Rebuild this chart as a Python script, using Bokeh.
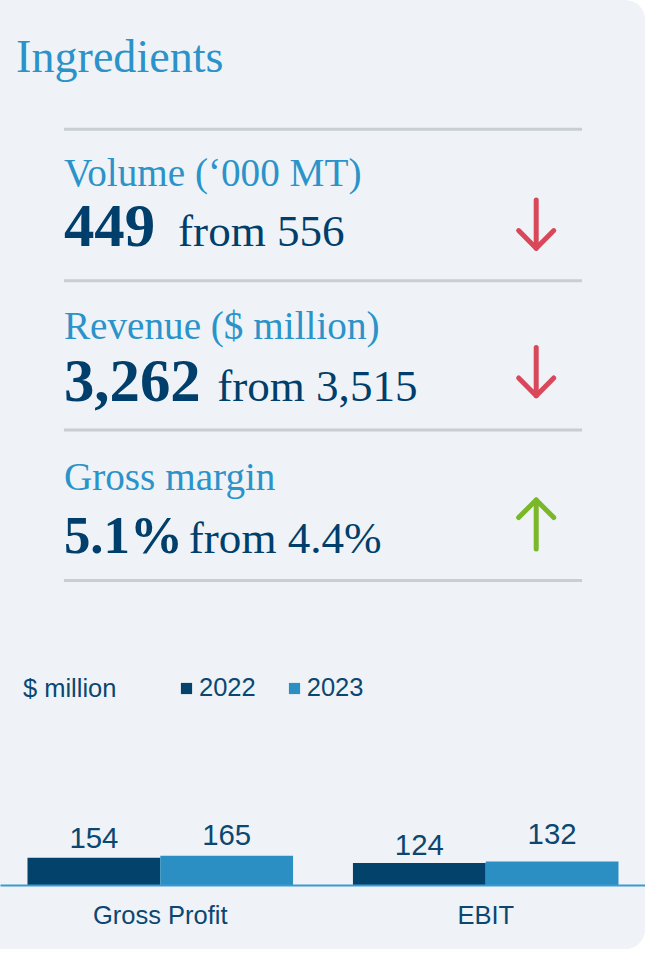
from bokeh.plotting import figure
from bokeh.models import ColumnDataSource, Range1d, FactorRange, Label, Legend, LegendItem
from bokeh.transform import dodge
from bokeh.layouts import column
from bokeh.core.properties import value
from bokeh.embed import file_html
from bokeh.resources import INLINE

# ---------------- data ----------------
title_text = "Ingredients"
metric_names = ["Volume (\u2018000 MT)", "Revenue ($ million)", "Gross margin"]
current_values = ["449", "3,262", "5.1%"]
previous_values = ["556", "3,515", "4.4%"]
directions = ["down", "down", "up"]

categories = ["Gross Profit", "EBIT"]
years = ["2022", "2023"]
values_2022 = [154, 124]
values_2023 = [165, 132]
unit_label = "$ million"

# ---------------- style ----------------
BG = "#eff3f7"
BLUE = "#2b93c9"
NAVY = "#003f6b"
TEXT_NAVY = "#0b4771"
GRAY = "#c9ced3"
RED = "#d9475a"
GREEN = "#7ab829"
BAR_2022 = "#02426b"
BAR_2023 = "#2b8fc4"
AXIS_BLUE = "#3d9ad0"
SERIF = "Liberation Serif"
SANS = "Liberation Sans"

W = 645
H = 949
REF_W, REF_H = 661, 965
SX = W / REF_W
SY = H / REF_H
FS = 0.98                      # font scale
TOP_REF = 650                  # reference y where the bar chart panel starts
TOP_H = round(TOP_REF * SY)
BOT_H = H - TOP_H
SHIFT_SERIF = 0.337            # baseline correction (em)
SHIFT_SANS = 0.347


def px(size):
    return f"{size:.1f}px"


def base(y, size, shift=SHIFT_SERIF):
    # y of a text anchor so that its alphabetic baseline lands on reference y
    return y - shift * size / SY


# ---------------- top panel (KPI text) ----------------
top = figure(width=W, height=TOP_H, x_range=Range1d(0, REF_W), y_range=Range1d(TOP_REF, 0),
             output_backend="svg", toolbar_location=None,
             x_axis_location=None, y_axis_location=None, min_border=0,
             background_fill_color=BG, border_fill_color=BG, outline_line_color=None)
top.grid.grid_line_color = None

t_size = 47 * FS
top.text(x=[16], y=[base(73, t_size)], text=[title_text], text_font=value(SERIF),
         text_font_size=px(t_size), text_color=BLUE, text_baseline="alphabetic")

line_ys = [131, 285, 437, 590]
top.segment(x0=[65] * 4, y0=line_ys, x1=[596] * 4, y1=line_ys, line_color=GRAY, line_width=3)

label_base = [188, 344, 498]
value_base = [250, 408, 562]

l_size = 40 * FS
top.text(x=[65] * 3, y=[base(b, l_size) for b in label_base], text=metric_names,
         text_font=value(SERIF), text_font_size=px(l_size), text_color=BLUE,
         text_baseline="alphabetic")

v_sizes = [62 * FS, 62 * FS, 54 * FS]
val_src = ColumnDataSource(dict(x=[65] * 3,
                                y=[base(b, s) for b, s in zip(value_base, v_sizes)],
                                text=current_values, size=[px(s) for s in v_sizes]))
top.text(x="x", y="y", text="text", source=val_src, text_font=value(SERIF),
         text_font_size="size", text_font_style="bold", text_color=NAVY,
         text_baseline="alphabetic")

f_size = 46 * FS
from_x = [182, 222, 193]
top.text(x=from_x, y=[base(b, f_size) for b in value_base],
         text=["from " + v for v in previous_values],
         text_font=value(SERIF), text_font_size=px(f_size), text_color=NAVY,
         text_baseline="alphabetic")

arrow_top = [203, 353, 508]
arrow_bot = [252, 402, 558]
ax = 549
xs, ys, cols = [], [], []
for d, t, b in zip(directions, arrow_top, arrow_bot):
    c = RED if d == "down" else GREEN
    xs.append([ax, ax]); ys.append([t, b]); cols.append(c)
    if d == "down":
        xs.append([ax - 18, ax, ax + 18]); ys.append([b - 18, b, b - 18])
    else:
        xs.append([ax - 18, ax, ax + 18]); ys.append([t + 18, t, t + 18])
    cols.append(c)
top.multi_line(xs=xs, ys=ys, line_color=cols, line_width=5, line_cap="round", line_join="round")

# ---------------- bottom panel (bar chart) ----------------
AXIS_REF = 900
plot_h = round((AXIS_REF - TOP_REF) * SY)
bot = figure(width=W, height=BOT_H,
             x_range=FactorRange(factors=categories, range_padding=-0.009),
             y_range=Range1d(0, 1360),
             output_backend="svg", toolbar_location=None, y_axis_location=None,
             min_border_left=0, min_border_right=0, min_border_top=0,
             min_border_bottom=BOT_H - plot_h,
             background_fill_color=BG, border_fill_color=BG, outline_line_color=None)
bot.grid.grid_line_color = None

lab_size = 30 * FS
sh = SHIFT_SANS * lab_size
gap_2022 = [10, 7.6]
gap_2023 = [11, 17.3]
src = ColumnDataSource(dict(cat=categories, y2022=values_2022, y2023=values_2023,
                            t2022=[str(v) for v in values_2022],
                            t2023=[str(v) for v in values_2023],
                            o2022=[-(g * SY + sh) for g in gap_2022],
                            o2023=[-(g * SY + sh) for g in gap_2023]))

BW = 0.408
r1 = bot.vbar(x=dodge("cat", -BW / 2, range=bot.x_range), top="y2022", width=BW,
              source=src, fill_color=BAR_2022, line_color=None)
r2 = bot.vbar(x=dodge("cat", BW / 2, range=bot.x_range), top="y2023", width=BW,
              source=src, fill_color=BAR_2023, line_color=None)

bot.text(x=dodge("cat", -BW / 2, range=bot.x_range), y="y2022", text="t2022", y_offset="o2022",
         source=src, text_font=value(SANS), text_font_size=px(lab_size), text_color=TEXT_NAVY,
         text_align="center", text_baseline="alphabetic")
bot.text(x=dodge("cat", BW / 2, range=bot.x_range), y="y2023", text="t2023", y_offset="o2023",
         source=src, text_font=value(SANS), text_font_size=px(lab_size), text_color=TEXT_NAVY,
         text_align="center", text_baseline="alphabetic")

xa = bot.xaxis[0]
xa.axis_line_color = AXIS_BLUE
xa.axis_line_width = 2
xa.major_tick_line_color = None
xa.minor_tick_line_color = None
xa.major_label_text_font = SANS
xa.major_label_text_font_size = px(26 * FS)
xa.major_label_text_color = TEXT_NAVY
xa.major_label_standoff = 9

u_size = 26 * FS
bot.add_layout(Label(x=23 * SX, y=(AXIS_REF - 708) * SY + SHIFT_SANS * u_size,
                     x_units="screen", y_units="screen", text=unit_label,
                     text_font=SANS, text_font_size=px(u_size), text_color=TEXT_NAVY,
                     text_baseline="alphabetic"))

legend = Legend(items=[LegendItem(label=years[0], renderers=[r1]),
                       LegendItem(label=years[1], renderers=[r2])],
                orientation="horizontal", location=(179, 183),
                glyph_width=14, glyph_height=14, label_standoff=6, spacing=31,
                label_text_font=SANS, label_text_font_size=px(u_size), label_text_color=TEXT_NAVY,
                padding=0, margin=0, border_line_color=None, background_fill_alpha=0)
bot.add_layout(legend)

layout = column(top, bot, styles={"background-color": BG,
                                  "border-top-right-radius": "20px",
                                  "border-bottom-right-radius": "20px",
                                  "overflow": "hidden"})
open("out.html", "w").write(file_html(layout, INLINE))
